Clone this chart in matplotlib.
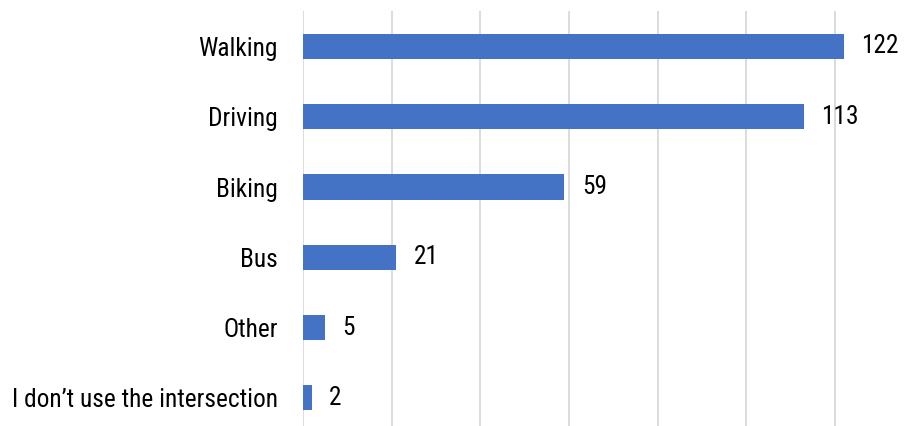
import matplotlib.pyplot as plt

categories = ["Walking", "Driving", "Biking", "Bus", "Other", "I don\u2019t use the intersection"]
counts = [122, 113, 59, 21, 5, 2]

plt.rcParams['font.family'] = ['Roboto Condensed', 'Liberation Sans', 'DejaVu Sans']

fig = plt.figure(figsize=(9.13, 4.26), dpi=100)
# axes run a little past the figure edges, like the clipped original layout
W, H = 913, 426
left, right = 303, 923.5
top, bottom = 11.3, 433.0
ax = fig.add_axes([left / W, 1 - bottom / H, (right - left) / W, (bottom - top) / H])

y = list(range(len(categories)))
bars = ax.barh(y, counts, height=0.356, color='#4472C4', zorder=3)
ax.set_ylim(len(categories) - 0.5, -0.5)
ax.set_xlim(0, 140)
ax.set_xticks(range(0, 141, 20))
ax.set_xticklabels([])
ax.tick_params(axis='x', length=0)
ax.tick_params(axis='y', length=0, pad=18, labelsize=18.3)
ax.set_yticks(y)
ax.set_yticklabels(categories)
ax.grid(axis='x', color='#d9d9d9', linewidth=1.3, zorder=0)
for s in ax.spines.values():
    s.set_visible(False)

for b, v in zip(bars, counts):
    ax.annotate(str(v), (b.get_width(), b.get_y() + b.get_height() / 2),
                xytext=(12.5, 0), textcoords='offset points',
                va='center', ha='left', fontsize=18.3)

fig.savefig('out.png', dpi=100)
